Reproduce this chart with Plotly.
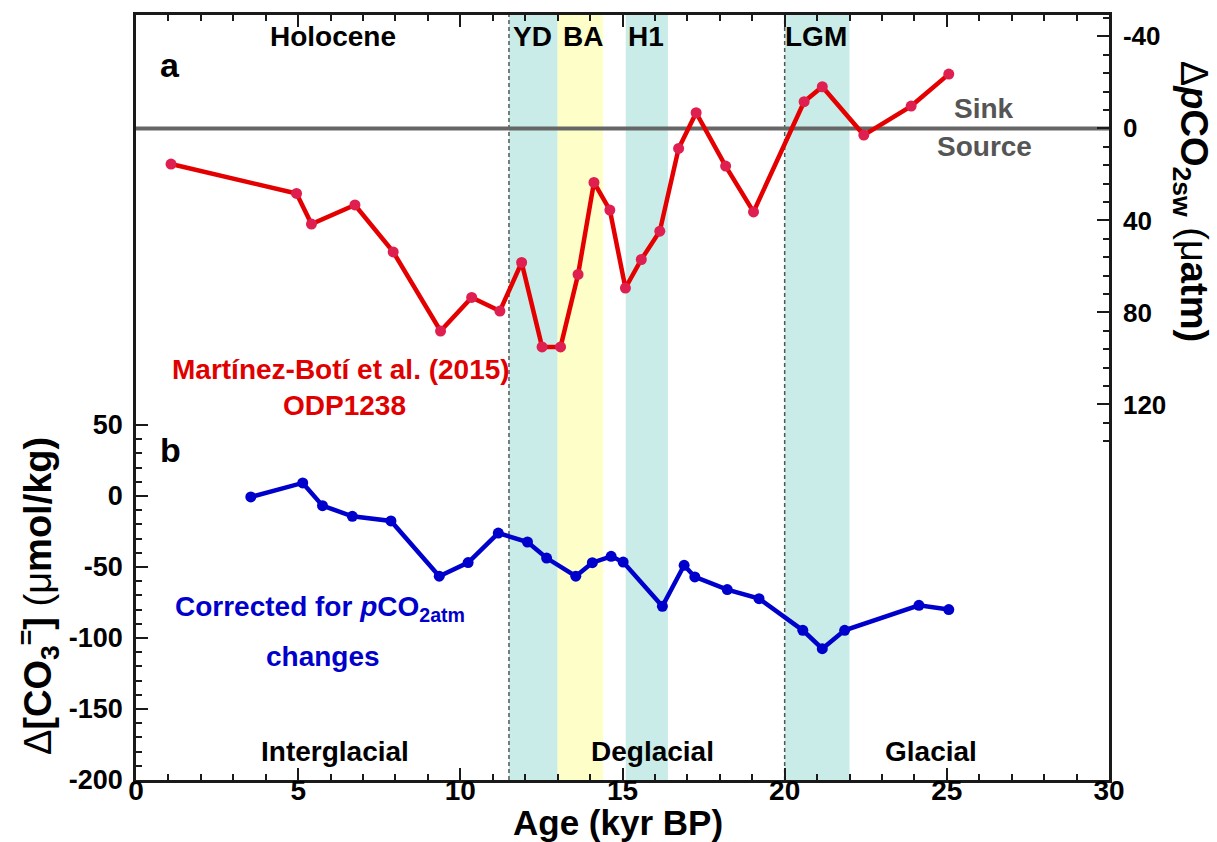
import plotly.graph_objects as go

# ODP1238 surface-water pCO2 disequilibrium (Martínez-Botí et al., 2015)
red_age = [1.08, 4.95, 5.41, 6.75, 7.93, 9.39, 10.35, 11.22, 11.89, 12.52, 13.09,
           13.63, 14.12, 14.61, 15.09, 15.58, 16.15, 16.73, 17.27, 18.18, 19.04,
           20.60, 21.16, 22.44, 23.90, 25.06]
red_dpco2 = [15.5, 28.3, 41.6, 33.3, 53.7, 88.1, 73.5, 79.4, 58.3, 95.0, 95.0,
             63.5, 23.5, 35.5, 69.4, 57.0, 44.7, 8.7, -6.8, 16.4, 36.3,
             -11.6, -18.1, 2.9, -9.7, -23.6]

# Deep-water carbonate ion change, corrected for atmospheric pCO2
blue_age = [3.54, 5.14, 5.75, 6.67, 7.86, 9.35, 10.24, 11.17, 12.07, 12.66, 13.56,
            14.07, 14.65, 15.02, 16.23, 16.90, 17.23, 18.23, 19.21, 20.56, 21.16,
            21.85, 24.14, 25.06]
blue_dco3 = [-0.7, 9.2, -6.8, -14.3, -17.6, -56.5, -46.9, -26.1, -32.4, -43.7, -56.5,
             -47.0, -42.5, -46.5, -77.7, -48.8, -57.0, -65.9, -72.3, -94.6, -107.5,
             -94.6, -77.0, -80.0]

# Climate intervals (kyr BP)
bands = [("YD", 11.5, 13.0, "#c9ece8"),
         ("BA", 13.0, 14.4, "#fefec8"),
         ("H1", 15.1, 16.4, "#c9ece8"),
         ("LGM", 20.0, 22.0, "#c9ece8")]
boundaries = [11.5, 20.0]

x_ticks = [0, 5, 10, 15, 20, 25, 30]
left_ticks = [-200, -150, -100, -50, 0, 50]
right_ticks = [-40, 0, 40, 80, 120]

FONT = "Liberation Sans, Arial, sans-serif"
AXIS_COLOR = "#1a1a1a"

fig = go.Figure()

fig.add_trace(go.Scatter(
    x=red_age, y=red_dpco2, yaxis="y2", mode="lines+markers",
    line=dict(color="#e40000", width=4.5),
    marker=dict(color="#de1f4f", size=11),
    showlegend=False, hoverinfo="skip"))

fig.add_trace(go.Scatter(
    x=blue_age, y=blue_dco3, yaxis="y", mode="lines+markers",
    line=dict(color="#0000cc", width=4.5),
    marker=dict(color="#0000cc", size=11),
    showlegend=False, hoverinfo="skip"))

shapes = []
for name, x0, x1, col in bands:
    shapes.append(dict(type="rect", xref="x", yref="paper", x0=x0, x1=x1, y0=0, y1=1,
                       fillcolor=col, line=dict(width=0), layer="below"))
for xb in boundaries:
    shapes.append(dict(type="line", xref="x", yref="paper", x0=xb, x1=xb, y0=0, y1=1,
                       line=dict(color="#555555", width=1.5, dash="4px,3px"), layer="below"))
# sink / source divide
shapes.append(dict(type="line", xref="paper", yref="y2", x0=0, x1=1, y0=0, y1=0,
                   line=dict(color="#666666", width=4), layer="below"))


def label(text, x, y, size=28, color="black", xref="x", yref="paper", bold=True, **kw):
    font = dict(family=FONT, size=size, color=color)
    if bold:
        font["weight"] = "bold"
    return dict(text=text, x=x, y=y, xref=xref, yref=yref, showarrow=False,
                xanchor="center", yanchor="middle", font=font, **kw)


annotations = [
    label("Holocene", 6.08, 0.972),
    label("YD", 12.22, 0.972),
    label("BA", 13.78, 0.972),
    label("H1", 15.72, 0.972),
    label("LGM", 20.98, 0.972),
    label("a", 1.05, 0.935, size=34),
    label("b", 1.05, 0.432, size=34),
    label("Sink", 26.16, 0.878, color="#555555"),
    label("Source", 26.15, 0.828, color="#555555"),
    label("Martínez-Botí et al. (2015)", 6.33, 0.536, color="#e00000"),
    label("ODP1238", 6.44, 0.490, color="#e00000"),
    label("Corrected for <i>p</i>CO<sub>2atm</sub>", 5.67, 0.224, color="#0000cc"),
    label("changes", 5.76, 0.161, color="#0000cc"),
    label("Interglacial", 6.13, 0.037),
    label("Deglacial", 15.94, 0.037),
    label("Glacial", 24.52, 0.037),
    # axis titles
    label("Age (kyr BP)", 0.4954, -0.0555, size=35, xref="paper"),
    label("Δ<b>[CO<sub>3</sub><sup>=</sup>]</b> (μ<b>mol/kg)</b>", -0.1007, 0.2405,
          size=38, xref="paper", bold=False, textangle=-90),
    label("Δ<b><i>p</i>CO<sub>2sw</sub></b> (μ<b>atm)</b>", 1.0843, 0.757,
          size=38, xref="paper", bold=False, textangle=90),
]

left_minor = [v for v in range(-190, 50, 10) if v % 50 != 0]
right_minor = [v for v in range(-48, 137, 8) if v % 40 != 0]

fig.update_layout(
    width=1217, height=842,
    margin=dict(l=136, r=108, t=15, b=62),
    paper_bgcolor="white", plot_bgcolor="white",
    font=dict(family=FONT, color="black"),
    shapes=shapes, annotations=annotations,
    xaxis=dict(range=[0, 30], tickmode="array", tickvals=x_ticks,
               ticktext=[str(v) for v in x_ticks],
               ticks="inside", ticklen=12, tickwidth=2, tickcolor=AXIS_COLOR,
               minor=dict(tickmode="linear", tick0=0, dtick=1, ticks="inside",
                          ticklen=6, tickwidth=2, tickcolor=AXIS_COLOR),
               showline=True, linecolor=AXIS_COLOR, linewidth=2.5, mirror="ticks",
               showgrid=False, zeroline=False, automargin=False,
               ticklabelstandoff=-16,
               tickfont=dict(family=FONT, size=28, weight="bold")),
    yaxis=dict(range=[-200, 338.7], tickmode="array", tickvals=left_ticks,
               ticktext=[str(v) for v in left_ticks],
               ticks="inside", ticklen=12, tickwidth=2, tickcolor=AXIS_COLOR,
               minor=dict(tickmode="array", tickvals=left_minor, ticks="inside",
                          ticklen=6, tickwidth=2, tickcolor=AXIS_COLOR),
               showline=True, linecolor=AXIS_COLOR, linewidth=2.5,
               showgrid=False, zeroline=False, automargin=False,
               ticklabelstandoff=5,
               tickfont=dict(family=FONT, size=27, weight="bold")),
    yaxis2=dict(range=[283.3, -49.3], overlaying="y", side="right", anchor="x",
                tickmode="array", tickvals=right_ticks,
                ticktext=[str(v) for v in right_ticks],
                ticks="inside", ticklen=12, tickwidth=2, tickcolor=AXIS_COLOR,
                minor=dict(tickmode="array", tickvals=right_minor, ticks="inside",
                           ticklen=6, tickwidth=2, tickcolor=AXIS_COLOR),
                showline=True, linecolor=AXIS_COLOR, linewidth=2.5,
                showgrid=False, zeroline=False, automargin=False,
                ticklabelstandoff=6,
                tickfont=dict(family=FONT, size=26, weight="bold")),
)

fig.write_html("out.html")
